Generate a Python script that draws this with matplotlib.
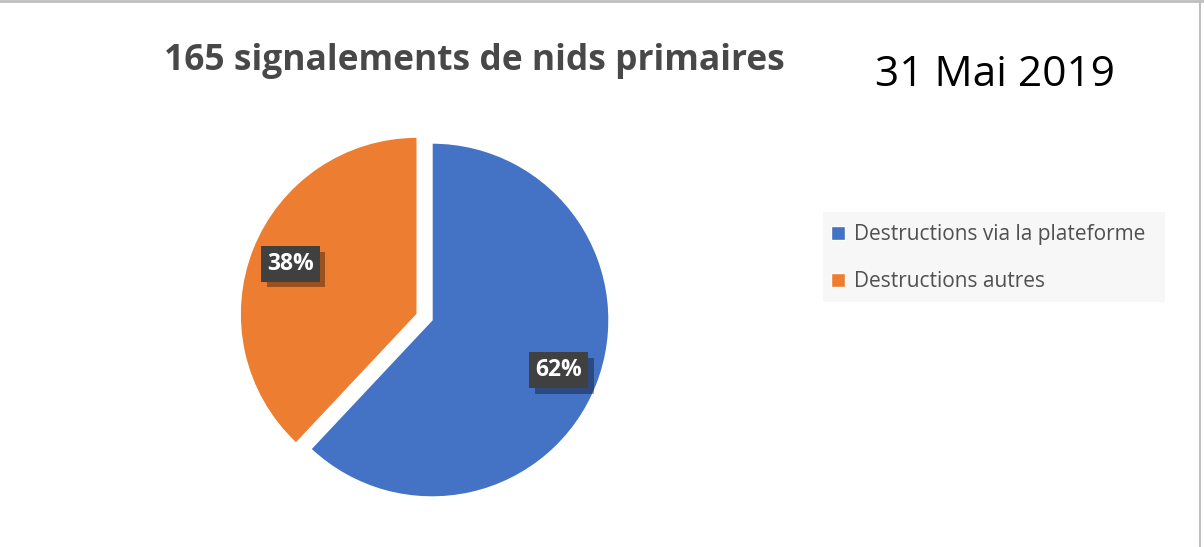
import matplotlib.pyplot as plt
import matplotlib.patheffects as pe
from matplotlib.patches import Rectangle
from matplotlib.lines import Line2D

labels = ["Destructions via la plateforme", "Destructions autres"]
values = [62, 38]
colors = ["#4472C4", "#ED7D31"]
explode = [0, 0.09]
title = "165 signalements de nids primaires"
date_text = "31 Mai 2019"

W, H = 1204, 547
fig = plt.figure(figsize=(W / 100, H / 100), dpi=100)
fig.patch.set_facecolor("white")

# pie axes: 400x400 px centred at (432, 320) from top, radius 177 px
cx, cy, r = 432, 320, 177
ax = fig.add_axes([(cx - 200) / W, (H - cy - 200) / H, 400 / W, 400 / H])

wedges, texts, autotexts = ax.pie(
    values, colors=colors, explode=explode, startangle=90, counterclock=False,
    autopct="%d%%", pctdistance=0.77, radius=1,
    wedgeprops=dict(edgecolor="white", linewidth=1),
    textprops=dict(color="white", fontsize=16.5, fontweight="bold", family="Open Sans"),
)
lim = 200 / r
ax.set_xlim(-lim, lim)
ax.set_ylim(-lim, lim)
ax.axis("off")

for t in autotexts:
    t.set_bbox(dict(boxstyle="square,pad=0.26", facecolor="#404040", edgecolor="none"))
    t.get_bbox_patch().set_path_effects([
        pe.SimplePatchShadow(offset=(4, -4), shadow_rgbFace="black", alpha=0.35),
        pe.Normal(),
    ])

fig.text(474 / W, 1 - 61 / H, title, ha="center", va="center",
         fontsize=25.5, fontweight="bold", color="#484848", family="Open Sans")
fig.text(995 / W, 1 - 75 / H, date_text, ha="center", va="center",
         fontsize=30.5, color="black", family="Open Sans")

# legend background
fig.patches.append(Rectangle((823 / W, 1 - 302 / H), (1165 - 823) / W, 90 / H,
                             transform=fig.transFigure, facecolor="#F7F7F7",
                             edgecolor="none", zorder=0))
fig.legend(wedges, labels, loc="upper left",
           bbox_to_anchor=(831 / W, 1 - 224 / H), bbox_transform=fig.transFigure,
           frameon=False, labelcolor="#505050",
           handlelength=0.65, handleheight=0.65, handletextpad=0.45,
           labelspacing=1.25, borderaxespad=0, borderpad=0,
           prop=dict(family="Open Sans", size=15))

# outer border
fig.add_artist(Line2D([0, 1], [1 - 1 / H, 1 - 1 / H], color="#BFBFBF", lw=2, transform=fig.transFigure))
fig.add_artist(Line2D([1 - 4 / W, 1 - 4 / W], [0, 1], color="#BFBFBF", lw=1.5, transform=fig.transFigure))

fig.savefig("out.png", dpi=100, facecolor="white")
